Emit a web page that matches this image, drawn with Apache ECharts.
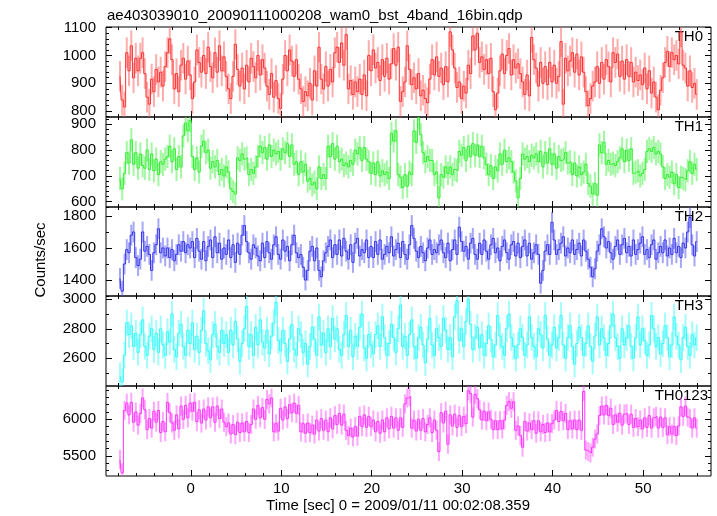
<!DOCTYPE html>
<html><head><meta charset="utf-8">
<script src="https://cdn.jsdelivr.net/npm/echarts@6/dist/echarts.min.js"></script>
<style>html,body{margin:0;padding:0;background:#fff}#c{width:717px;height:516px}</style>
</head><body><div id="c"></div>
<script>
// ---- data (0.25 s bins) ----
const tStart = -7.95;
const binWidth = 0.25;
const xMajorTicks = [0, 10, 20, 30, 40, 50];
const th0Ticks = [800, 900, 1000, 1100];
const th1Ticks = [600, 700, 800, 900];
const th2Ticks = [1400, 1600, 1800];
const th3Ticks = [2600, 2800, 3000];
const th0123Ticks = [5500, 6000];
const panelNames = ['TH0', 'TH1', 'TH2', 'TH3', 'TH0123'];

const th0 = [
925,840,815,1010,945,1035,920,990,945,990,1010,935,850,825,915,870,
950,905,940,890,960,1010,1060,985,880,935,870,965,990,915,980,930,
845,905,1020,975,940,1000,935,1030,960,920,1010,940,1035,945,995,925,
880,845,925,1040,950,890,955,880,965,905,990,960,920,1000,930,985,
955,890,860,935,850,910,845,810,915,1000,945,1020,980,925,985,915,
880,835,870,855,900,840,945,890,1030,915,880,960,890,950,905,1010,
1030,975,1045,965,1075,880,910,860,905,870,915,860,930,855,1000,945,
1020,955,975,910,985,925,990,915,970,1025,965,1030,835,870,905,1035,
950,895,920,880,935,855,875,845,830,915,985,930,995,925,955,895,
960,905,1085,1020,955,885,905,845,890,865,965,935,1070,1020,1080,975,
995,950,985,935,990,870,805,865,945,1005,935,1000,1025,930,985,955,
970,935,905,860,930,855,1065,985,955,890,975,900,960,895,975,905,
965,900,925,1050,825,990,945,980,1010,940,1005,930,995,940,870,820,
845,890,905,960,900,975,915,985,960,905,1010,975,1005,925,980,915,
985,925,975,905,940,910,930,895,955,880,945,865,905,850,805,875,
920,975,1015,960,1010,985,1000,970,1085,965,955,890,945,885,900,860
];
const th1 = [
690,650,710,790,750,840,745,790,730,785,740,730,800,725,785,720,
765,705,755,745,765,775,815,755,805,725,775,735,855,905,875,915,
775,725,770,715,815,835,790,800,730,755,735,760,705,725,700,735,
715,650,640,630,770,760,785,765,770,705,725,710,735,775,815,790,
810,765,820,775,800,785,795,765,805,790,825,775,820,745,755,705,
755,715,745,680,690,665,675,650,735,690,705,690,815,775,825,765,
815,755,765,740,750,735,760,745,800,785,810,760,810,765,755,710,
750,705,755,700,720,705,715,690,865,835,875,705,695,655,705,660,
715,705,875,830,925,860,790,755,775,760,760,705,715,615,705,695,
735,710,735,705,725,720,795,780,810,760,815,775,825,780,820,775,
815,770,745,705,740,690,735,720,785,745,800,755,770,755,715,680,
615,690,785,765,775,755,780,770,785,755,795,735,790,750,805,745,
785,730,775,760,765,790,750,755,705,750,700,735,705,715,745,670,
660,630,670,625,820,790,830,745,760,745,750,740,755,770,805,755,
800,760,805,710,715,720,700,710,725,795,805,795,810,785,795,785,
735,690,705,695,715,670,705,655,695,690,685,720,755,710,745,725
];
const th2 = [
1410,1330,1500,1590,1570,1680,1700,1540,1490,1530,1700,1580,1610,1560,1460,1570,
1620,1720,1570,1600,1550,1600,1540,1590,1520,1560,1620,1580,1640,1570,1620,1600,
1640,1540,1660,1580,1530,1640,1520,1610,1650,1540,1670,1570,1630,1530,1600,1560,
1650,1540,1620,1510,1630,1560,1680,1740,1640,1570,1530,1620,1600,1550,1520,1630,
1540,1640,1570,1530,1620,1670,1560,1530,1650,1580,1610,1520,1620,1680,1570,1540,
1560,1480,1400,1460,1580,1610,1520,1600,1460,1420,1520,1570,1610,1650,1540,1620,
1560,1650,1550,1660,1580,1530,1620,1510,1630,1660,1550,1590,1570,1650,1540,1610,
1540,1640,1560,1650,1530,1560,1610,1570,1670,1550,1590,1630,1540,1640,1560,1530,
1620,1740,1660,1580,1540,1610,1570,1520,1600,1650,1560,1590,1570,1620,1650,1570,
1540,1630,1520,1590,1650,1560,1730,1640,1580,1610,1530,1630,1660,1560,1530,1630,
1560,1650,1580,1530,1620,1660,1570,1600,1520,1610,1650,1570,1530,1620,1640,1550,
1630,1540,1610,1650,1550,1630,1530,1570,1620,1560,1380,1460,1580,1620,1560,1760,
1650,1560,1590,1630,1670,1550,1600,1570,1650,1560,1590,1630,1550,1650,1580,1530,
1480,1420,1470,1580,1620,1720,1670,1600,1640,1570,1530,1610,1650,1560,1620,1660,
1570,1610,1550,1650,1560,1590,1630,1670,1560,1590,1540,1620,1650,1530,1570,1610,
1570,1650,1550,1600,1560,1660,1570,1610,1540,1630,1600,1700,1790,1620,1550,1640
];
const th3 = [
2480,2440,2620,2840,2760,2820,2680,2770,2640,2760,2860,2680,2620,2750,2800,2660,
2770,2640,2800,2690,2620,2780,2710,2900,2660,2610,2770,2830,2680,2620,2790,2700,
2840,2660,2750,2640,2790,2920,2700,2650,2590,2760,2830,2680,2640,2790,2700,2760,
2640,2790,2690,2850,2730,2580,2700,2800,2950,2680,2760,2620,2810,2690,2860,2710,
2670,2790,2630,2750,2840,2980,2720,2650,2790,2700,2580,2730,2830,2660,2620,2800,
2760,2640,2700,2560,2680,2810,2730,2620,2880,2690,2770,2640,2800,2680,2870,2730,
2800,2660,2620,2760,2890,2680,2790,2610,2750,2680,2810,2900,2670,2600,2760,2690,
2630,2760,2820,2680,2880,2740,2620,2700,2830,2740,2640,2800,2960,2680,2750,2620,
2760,2860,2680,2600,2740,2810,2690,2570,2730,2870,2690,2620,2800,2740,2680,2870,
2790,2660,2740,2610,2880,2990,2720,2800,2680,2850,3000,2830,2660,2740,2810,2670,
2760,2620,2700,2820,2730,2610,2690,2890,2750,2680,2620,2800,2900,2740,2680,2600,
2690,2800,2740,2620,2690,2880,2740,2680,2610,2800,2760,2670,2890,2730,2620,2690,
2810,2670,2740,2890,2690,2600,2740,2820,2680,2560,2700,2810,2740,2620,2700,2820,
2680,2580,2750,2880,2690,2800,2740,2620,2700,2820,2900,2740,2680,2600,2800,2690,
2740,2820,2680,2600,2740,2880,2690,2800,2720,2620,2690,2890,2800,2680,2740,2630,
2700,2820,2740,2610,2690,2880,2750,2690,2590,2740,2810,2680,2620,2760,2690,2740
];
const th0123 = [
5450,5270,6120,6220,6060,6230,5960,6100,5920,6080,6290,6130,5860,6010,5880,6110,
5960,6120,5820,5970,5830,6230,6090,5950,5850,6060,5870,6180,6000,6190,6020,6220,
6110,6230,5970,6130,5950,6140,5990,6170,6020,6170,5960,6180,6010,6140,5960,5900,
5950,5800,5930,5790,5960,5820,5950,5830,5970,5820,5930,6140,6000,6190,6020,6160,
6000,6270,6210,6290,5830,5940,5840,6150,5990,6170,6010,6200,6090,6220,6080,6190,
5830,5940,5810,5950,5820,5920,5800,5990,5840,6010,5850,5990,5830,6020,5870,6050,
5930,6080,5920,6070,5850,5780,5880,5760,5900,5770,6040,5900,6060,5890,6040,5900,
5990,5830,5970,5810,5990,5830,6020,5870,6040,5880,6020,5850,6020,5890,6210,6290,
6310,5880,5990,5840,6000,5850,6010,5830,5930,6020,5820,5990,5850,5560,6090,5950,
6110,5660,6060,5910,6070,5890,6050,5900,6040,5940,6390,6350,6030,6340,6280,6130,
5990,6110,5980,6100,6000,5860,5980,5860,5980,5870,5990,6190,6240,6150,6240,5850,
5910,5780,5620,5970,5840,5950,5860,5980,5810,5980,5830,5930,5820,5950,5830,5940,
5990,6120,5970,6110,5980,6080,5860,5980,5870,5990,5860,5990,5850,6380,5580,5560,
5540,5620,5730,5800,6050,6180,6060,6190,6050,6150,5930,6060,5960,6080,5920,6070,
6080,5930,6070,5890,6010,5900,5990,5870,6020,5890,6050,5880,6020,6040,5880,6030,
5890,6020,5790,5900,5800,5900,5780,5910,6170,6040,6180,6030,6010,5880,6020,5880
];
const seriesValues = [th0, th1, th2, th3, th0123];
const errHalf = [55, 45, 65, 90, 130];

// ---- layout / style ----
const FONT = 'Liberation Sans';
const xMin = -9.37, xMax = 57.5;
const tops = [27, 117, 207, 296, 386];
const heights = [90, 90, 89, 90, 90];
const yRanges = [[778.8, 1102.5], [579.5, 928.3], [1300, 1856], [2412, 3022], [5227, 6454]];
const yMajor = [th0Ticks, th1Ticks, th2Ticks, th3Ticks, th0123Ticks];
const yMinorStep = [20, 20, 100, 100, 100];
const lineColors = ['#ff3030', '#30f030', '#3434ee', '#34fafa', '#ff34ff'];
const barColors = ['rgba(255,90,90,0.5)', 'rgba(70,240,70,0.5)', 'rgba(80,80,240,0.5)', 'rgba(70,250,250,0.5)', 'rgba(255,80,255,0.5)'];
const labelRight = [703, 703, 703, 703, 708];

const xMinor = [];
for (let v = -8; v <= 56; v += 2) if (v % 10 !== 0) xMinor.push(v);

function minorList(r, step) {
  const out = [];
  for (let v = Math.ceil(r[0] / step) * step; v <= r[1]; v += step) out.push(v);
  return out;
}

const grids = [], xAxes = [], yAxes = [], series = [], graphics = [];
const tickStyle = { color: '#000', width: 1 };
const noLine = { show: false, onZero: false };
const plain = v => String(v);

seriesValues.forEach((vals, i) => {
  grids.push({ left: 106, right: 6, top: tops[i], height: heights[i], show: true,
    borderColor: '#000', borderWidth: 1, backgroundColor: 'rgba(0,0,0,0)', outerBoundsMode: 'none', containLabel: false });
  const xb = { type: 'value', gridIndex: i, min: xMin, max: xMax, axisLine: noLine,
    splitLine: { show: false }, axisLabel: { show: false } };
  xAxes.push(Object.assign({}, xb, { position: 'bottom',
    axisTick: { inside: true, length: 6, customValues: xMajorTicks, lineStyle: tickStyle },
    axisLabel: i === 4 ? { show: true, customValues: xMajorTicks, formatter: plain, fontSize: 15, fontFamily: FONT, color: '#000', margin: 5 } : { show: false } }));
  xAxes.push(Object.assign({}, xb, { position: 'bottom',
    axisTick: { inside: true, length: 3, customValues: xMinor, lineStyle: tickStyle } }));
  xAxes.push(Object.assign({}, xb, { position: 'top',
    axisTick: { inside: true, length: 6, customValues: xMajorTicks, lineStyle: tickStyle } }));
  xAxes.push(Object.assign({}, xb, { position: 'top',
    axisTick: { inside: true, length: 3, customValues: xMinor, lineStyle: tickStyle } }));

  const r = yRanges[i];
  const yb = { type: 'value', gridIndex: i, min: r[0], max: r[1], axisLine: noLine,
    splitLine: { show: false }, axisLabel: { show: false } };
  const minors = minorList(r, yMinorStep[i]);
  yAxes.push(Object.assign({}, yb, { position: 'left',
    axisTick: { inside: true, length: 6, customValues: yMajor[i], lineStyle: tickStyle },
    axisLabel: { show: true, customValues: yMajor[i], formatter: plain, fontSize: 15, fontFamily: FONT, color: '#000', margin: 10 } }));
  yAxes.push(Object.assign({}, yb, { position: 'left',
    axisTick: { inside: true, length: 3, customValues: minors, lineStyle: tickStyle } }));
  yAxes.push(Object.assign({}, yb, { position: 'right',
    axisTick: { inside: true, length: 6, customValues: yMajor[i], lineStyle: tickStyle } }));
  yAxes.push(Object.assign({}, yb, { position: 'right',
    axisTick: { inside: true, length: 3, customValues: minors, lineStyle: tickStyle } }));

  const pts = vals.map((v, k) => [tStart + (k + 0.5) * binWidth, v]);
  const errs = vals.map((v, k) => [tStart + (k + 0.5) * binWidth, v - errHalf[i], v + errHalf[i]]);
  const bc = barColors[i];
  series.push({ type: 'custom', xAxisIndex: 4 * i, yAxisIndex: 4 * i, clip: true,
    encode: { x: 0, y: [1, 2] }, data: errs, silent: true,
    renderItem: function (params, api) {
      const a = api.coord([api.value(0), api.value(1)]);
      const b = api.coord([api.value(0), api.value(2)]);
      return { type: 'line', shape: { x1: a[0], y1: a[1], x2: b[0], y2: b[1] },
        style: { stroke: bc, lineWidth: 2 } };
    } });
  series.push({ type: 'line', xAxisIndex: 4 * i, yAxisIndex: 4 * i, data: pts, step: 'middle',
    showSymbol: false, symbol: 'none', clip: true, silent: true,
    lineStyle: { color: lineColors[i], width: 1 } });

  graphics.push({ type: 'text', x: labelRight[i], y: tops[i] + 10.3,
    style: { text: panelNames[i], font: '15px "' + FONT + '"', fill: '#000', textAlign: 'right', textVerticalAlign: 'middle' } });
});

graphics.push({ type: 'text', x: 107, y: 15.5,
  style: { text: 'ae403039010_20090111000208_wam0_bst_4band_16bin.qdp', font: '15px "' + FONT + '"', fill: '#000', textAlign: 'left', textVerticalAlign: 'middle' } });
graphics.push({ type: 'text', x: 398, y: 506,
  style: { text: 'Time [sec] 0 = 2009/01/11 00:02:08.359', font: '15px "' + FONT + '"', fill: '#000', textAlign: 'center', textVerticalAlign: 'middle' } });
graphics.push({ type: 'text', x: 41, y: 260, rotation: Math.PI / 2,
  style: { text: 'Counts/sec', font: '15px "' + FONT + '"', fill: '#000', textAlign: 'center', textVerticalAlign: 'middle' } });

const chart = echarts.init(document.getElementById('c'), null, { renderer: 'canvas' });
chart.setOption({ animation: false, backgroundColor: '#fff', grid: grids, xAxis: xAxes, yAxis: yAxes, series: series, graphic: graphics });
</script></body></html>
